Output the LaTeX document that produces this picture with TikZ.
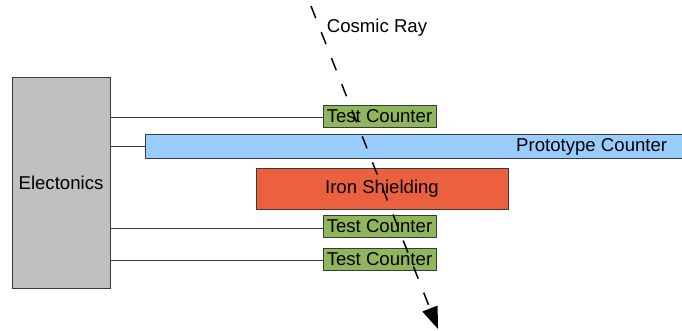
\documentclass[tikz,border=0pt]{standalone}
\usepackage{fontspec}
\setmainfont{Liberation Sans}
\usetikzlibrary{arrows.meta}
\definecolor{tcgreen}{HTML}{8FB65A}
\definecolor{pcblue}{HTML}{99CCFF}
\definecolor{ironred}{HTML}{EB613F}
\definecolor{elgray}{HTML}{C0C0C0}
\definecolor{edge}{HTML}{3A3A3A}
\tikzset{
  box/.style={draw=edge, line width=1pt, inner sep=0pt, font=\fontsize{18.6}{20}\selectfont},
  tcbox/.style={box, fill=tcgreen, minimum width=113pt, minimum height=22pt},
  txt/.style={inner sep=0pt, font=\fontsize{18.6}{20}\selectfont},
  wire/.style={draw=edge, line width=0.9pt},
  ray/.style={line width=1.5pt, dash pattern=on 13pt off 15pt,
     -{Triangle[length=22pt,width=16pt]}}
}
\begin{document}
\begin{tikzpicture}[x=1pt,y=-1pt]
\useasboundingbox (0,0) rectangle (682,330);
\node[box, fill=elgray, minimum width=98pt, minimum height=211pt] (el) at (61,182.5) {Electonics};
\node[box, fill=pcblue, minimum width=539pt, minimum height=24pt] (pc) at (414.5,146) {};
\node[txt] (pct) at (591.7,146.5) {Prototype Counter};
\node[box, fill=ironred, minimum width=252pt, minimum height=41pt] (fe) at (382,188.5) {Iron Shielding};
\node[tcbox] (t1) at (379.5,116) {Test Counter};
\node[tcbox] (t2) at (379.5,226.5) {Test Counter};
\node[tcbox] (t3) at (379.5,259) {Test Counter};
\draw[wire] (el.east |- 0,117.3) -- (t1.west |- 0,117.3);
\draw[wire] (el.east |- 0,146.3) -- (pc.west |- 0,146.3);
\draw[wire] (el.east |- 0,228.8) -- (t2.west |- 0,228.8);
\draw[wire] (el.east |- 0,260.3) -- (t3.west |- 0,260.3);
\coordinate (rs) at (311,6);
\coordinate (re) at (438,329);
\draw[ray] (rs) -- (re);
\node[txt] (cr) at (377,28) {Cosmic Ray};
\end{tikzpicture}
\end{document}
